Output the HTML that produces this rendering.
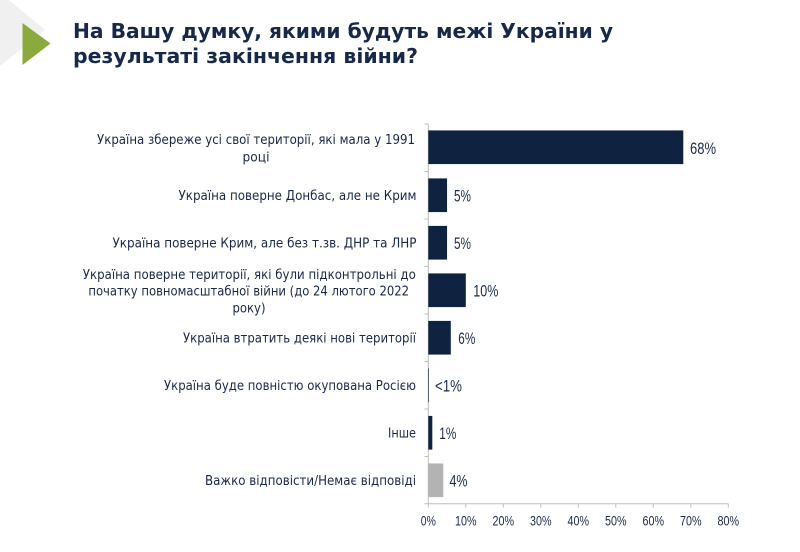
<!DOCTYPE html>
<html><head><meta charset="utf-8"><style>
html,body{margin:0;padding:0;background:#fff;}
svg{display:block;}
</style></head><body>
<svg width="800" height="552" viewBox="0 0 800 552" xmlns="http://www.w3.org/2000/svg">
<rect width="800" height="552" fill="#fff"/>
<polygon points="0,0 9,0 45,30 0,66" fill="#f0f0f0"/>
<polygon points="22.5,23 22.5,65 50.5,43.5" fill="#8aaa3e"/>
<g font-family="'DejaVu Sans', 'Liberation Sans', sans-serif" font-weight="bold" font-size="20.5" fill="#17294a">
<text x="73" y="38" textLength="540" lengthAdjust="spacingAndGlyphs">На Вашу думку, якими будуть межі України у</text>
<text x="73" y="63" textLength="345" lengthAdjust="spacingAndGlyphs">результаті закінчення війни?</text>
</g>
<!-- axes -->
<g stroke="#bdbdbd" stroke-width="1" fill="none">
<line x1="428.3" y1="124" x2="428.3" y2="504"/>
<line x1="424.5" y1="503.7" x2="728.3" y2="503.7"/>
<line x1="424.5" y1="124" x2="428.3" y2="124"/>
<line x1="424.5" y1="171.5" x2="428.3" y2="171.5"/>
<line x1="424.5" y1="219" x2="428.3" y2="219"/>
<line x1="424.5" y1="266.5" x2="428.3" y2="266.5"/>
<line x1="424.5" y1="314" x2="428.3" y2="314"/>
<line x1="424.5" y1="361.5" x2="428.3" y2="361.5"/>
<line x1="424.5" y1="409" x2="428.3" y2="409"/>
<line x1="424.5" y1="456.5" x2="428.3" y2="456.5"/>
<line x1="428.3" y1="503.7" x2="428.3" y2="507.5"/>
<line x1="465.8" y1="503.7" x2="465.8" y2="507.5"/>
<line x1="503.3" y1="503.7" x2="503.3" y2="507.5"/>
<line x1="540.8" y1="503.7" x2="540.8" y2="507.5"/>
<line x1="578.3" y1="503.7" x2="578.3" y2="507.5"/>
<line x1="615.8" y1="503.7" x2="615.8" y2="507.5"/>
<line x1="653.3" y1="503.7" x2="653.3" y2="507.5"/>
<line x1="690.8" y1="503.7" x2="690.8" y2="507.5"/>
<line x1="728.3" y1="503.7" x2="728.3" y2="507.5"/>
</g>
<!-- bars -->
<g fill="#0f2341">
<rect x="428.3" y="130.4" width="255" height="33.7"/>
<rect x="428.3" y="178.4" width="18.75" height="33.7"/>
<rect x="428.3" y="225.9" width="18.75" height="33.7"/>
<rect x="428.3" y="273.4" width="37.5" height="33.7"/>
<rect x="428.3" y="320.9" width="22.5" height="33.7"/>
<rect x="428.3" y="368.4" width="0.6" height="33.7"/>
<rect x="428.3" y="415.9" width="4" height="33.7"/>
</g>
<rect x="428.3" y="463.4" width="15" height="33.7" fill="#b3b3b3"/>
<!-- category labels -->
<g font-family="'DejaVu Sans', 'Liberation Sans', sans-serif" font-size="13" fill="#1a2848">
<text x="256" y="143.8" text-anchor="middle" textLength="318" lengthAdjust="spacingAndGlyphs">Україна збереже усі свої території, які мала у 1991</text>
<text x="256" y="161.3" text-anchor="middle" textLength="27" lengthAdjust="spacingAndGlyphs">році</text>
<text x="416.5" y="200" text-anchor="end" textLength="238" lengthAdjust="spacingAndGlyphs">Україна поверне Донбас, але не Крим</text>
<text x="416.5" y="247.5" text-anchor="end" textLength="304" lengthAdjust="spacingAndGlyphs">Україна поверне Крим, але без т.зв. ДНР та ЛНР</text>
<text x="249.3" y="278.8" text-anchor="middle" textLength="333" lengthAdjust="spacingAndGlyphs">Україна поверне території, які були підконтрольні до</text>
<text x="248.7" y="295.6" text-anchor="middle" textLength="320.7" lengthAdjust="spacingAndGlyphs">початку повномасштабної війни (до 24 лютого 2022</text>
<text x="249" y="312.3" text-anchor="middle" textLength="33" lengthAdjust="spacingAndGlyphs">року)</text>
<text x="416" y="342.5" text-anchor="end" textLength="233" lengthAdjust="spacingAndGlyphs">Україна втратить деякі нові території</text>
<text x="416" y="390" text-anchor="end" textLength="252" lengthAdjust="spacingAndGlyphs">Україна буде повністю окупована Росією</text>
<text x="416" y="437.5" text-anchor="end" textLength="28" lengthAdjust="spacingAndGlyphs">Інше</text>
<text x="416" y="485" text-anchor="end" textLength="211" lengthAdjust="spacingAndGlyphs">Важко відповісти/Немає відповіді</text>
</g>
<!-- data labels -->
<g font-family="'Liberation Sans', sans-serif" font-size="17" fill="#1a2a48">
<text x="690" y="153.8" textLength="26" lengthAdjust="spacingAndGlyphs">68%</text>
<text x="454" y="201.3" textLength="17" lengthAdjust="spacingAndGlyphs">5%</text>
<text x="454" y="248.8" textLength="17" lengthAdjust="spacingAndGlyphs">5%</text>
<text x="473.3" y="296.3" textLength="25" lengthAdjust="spacingAndGlyphs">10%</text>
<text x="458.3" y="343.8" textLength="17" lengthAdjust="spacingAndGlyphs">6%</text>
<text x="435" y="391.3" textLength="27" lengthAdjust="spacingAndGlyphs">&lt;1%</text>
<text x="439.3" y="438.8" textLength="17" lengthAdjust="spacingAndGlyphs">1%</text>
<text x="449.5" y="486.3" textLength="18" lengthAdjust="spacingAndGlyphs">4%</text>
</g>
<!-- tick labels -->
<g font-family="'Liberation Sans', sans-serif" font-size="14" fill="#1a2a48" text-anchor="middle">
<text x="428.3" y="525.7" textLength="15" lengthAdjust="spacingAndGlyphs">0%</text>
<text x="465.8" y="525.7" textLength="21.5" lengthAdjust="spacingAndGlyphs">10%</text>
<text x="503.3" y="525.7" textLength="21.5" lengthAdjust="spacingAndGlyphs">20%</text>
<text x="540.8" y="525.7" textLength="21.5" lengthAdjust="spacingAndGlyphs">30%</text>
<text x="578.3" y="525.7" textLength="21.5" lengthAdjust="spacingAndGlyphs">40%</text>
<text x="615.8" y="525.7" textLength="21.5" lengthAdjust="spacingAndGlyphs">50%</text>
<text x="653.3" y="525.7" textLength="21.5" lengthAdjust="spacingAndGlyphs">60%</text>
<text x="690.8" y="525.7" textLength="21.5" lengthAdjust="spacingAndGlyphs">70%</text>
<text x="728.3" y="525.7" textLength="21.5" lengthAdjust="spacingAndGlyphs">80%</text>
</g>
</svg>
</body></html>
